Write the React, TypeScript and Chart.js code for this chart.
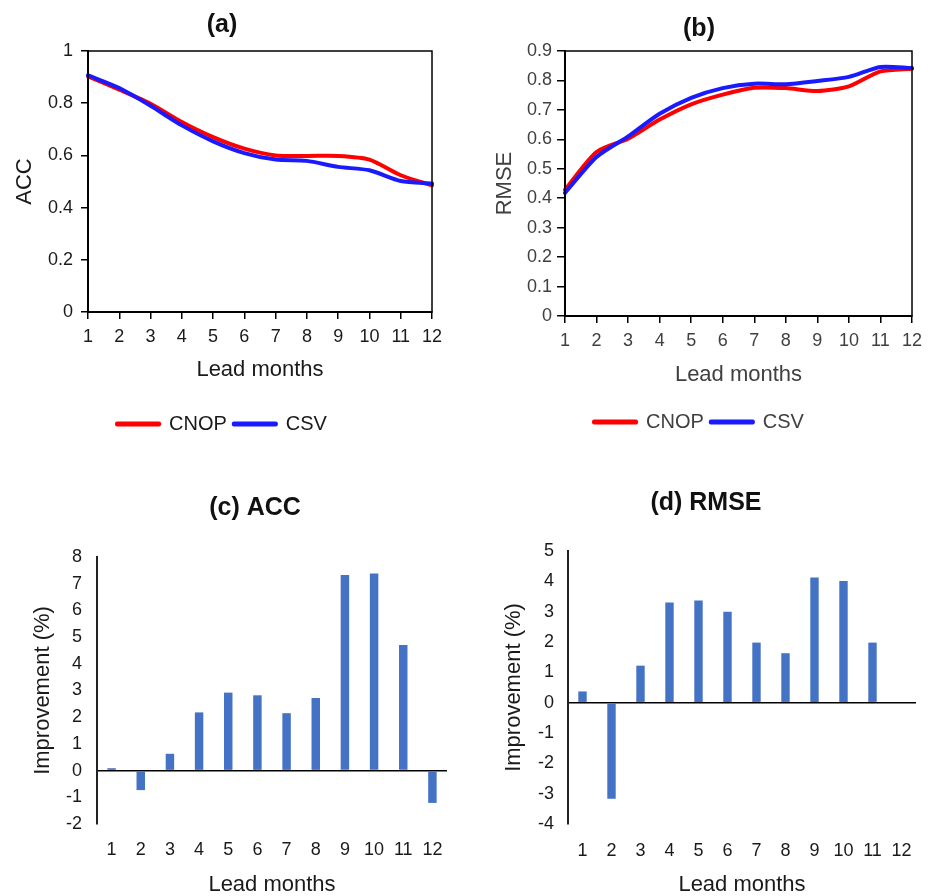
import React, { useEffect, useRef } from 'react';
import { Chart, registerables } from 'chart.js';

Chart.register(...registerables);

const FONT = '"Liberation Sans", Arial, Helvetica, sans-serif';
Chart.defaults.font.family = FONT;

// ---- data ----
const MONTHS = ['1', '2', '3', '4', '5', '6', '7', '8', '9', '10', '11', '12'];
const SERIES_NAMES = ['CNOP', 'CSV'];

const ACC_CNOP = [0.903, 0.852, 0.798, 0.728, 0.67, 0.626, 0.6, 0.598, 0.598, 0.584, 0.524, 0.485];
const ACC_CSV = [0.907, 0.858, 0.79, 0.715, 0.654, 0.609, 0.584, 0.579, 0.556, 0.543, 0.502, 0.492];

const RMSE_CNOP = [0.429, 0.557, 0.602, 0.667, 0.719, 0.752, 0.775, 0.774, 0.764, 0.78, 0.831, 0.84];
const RMSE_CSV = [0.418, 0.54, 0.61, 0.687, 0.741, 0.774, 0.789, 0.787, 0.798, 0.812, 0.846, 0.842];

const ACC_IMPROVEMENT = [0.09, -0.73, 0.63, 2.18, 2.92, 2.82, 2.15, 2.72, 7.33, 7.38, 4.7, -1.21];
const RMSE_IMPROVEMENT = [0.37, -3.17, 1.22, 3.3, 3.37, 3.0, 1.98, 1.63, 4.13, 4.01, 1.98, 0];

const ACC_RANGE = [0, 1, 0.2];
const RMSE_RANGE = [0, 0.9, 0.1];
const ACC_IMP_RANGE = [-2, 8, 1];
const RMSE_IMP_RANGE = [-4, 5, 1];

const RED = '#ff0000';
const BLUE = '#1a1aff';
const BAR_BLUE = '#4472c4';

const framePlugin = {
  id: 'frame',
  afterDraw(chart: any) {
    const { ctx, chartArea: a } = chart;
    ctx.save();
    ctx.strokeStyle = '#000';
    ctx.lineWidth = 1.5;
    ctx.strokeRect(a.left, a.top, a.right - a.left, a.bottom - a.top);
    ctx.restore();
  },
};

const fmt = (v: any) => Number(v).toFixed(1).replace(/\.0$/, '');

function lineConfig(p: any) {
  return {
    type: 'line',
    data: {
      labels: MONTHS,
      datasets: [
        {
          label: SERIES_NAMES[0],
          data: p.cnop,
          borderColor: RED,
          backgroundColor: RED,
          borderWidth: 4,
          pointRadius: 0,
          tension: 0.25,
          borderCapStyle: 'round',
          borderJoinStyle: 'round',
          order: 1,
        },
        {
          label: SERIES_NAMES[1],
          data: p.csv,
          borderColor: BLUE,
          backgroundColor: BLUE,
          borderWidth: 4,
          pointRadius: 0,
          tension: 0.25,
          borderCapStyle: 'round',
          borderJoinStyle: 'round',
          order: 0,
        },
      ],
    },
    plugins: [framePlugin],
    options: {
      animation: false,
      responsive: false,
      devicePixelRatio: 1,
      layout: { padding: { left: p.padLeft, top: 0, right: p.padRight, bottom: 0 } },
      plugins: {
        title: {
          display: true,
          text: p.title,
          color: '#111',
          font: { size: 25, weight: 'bold' },
          padding: { top: p.titleTop, bottom: p.titleBottom },
        },
        legend: {
          position: 'bottom',
          labels: {
            boxWidth: 42,
            boxHeight: 1,
            padding: 7,
            color: p.color,
            font: { size: 20 },
            sort: (a: any, b: any) => a.datasetIndex - b.datasetIndex,
          },
        },
        tooltip: { enabled: false },
      },
      scales: {
        x: {
          offset: false,
          grid: { drawOnChartArea: false, drawTicks: true, tickLength: 7, color: '#000', lineWidth: 1.5 },
          border: { display: true, color: '#000', width: 2 },
          ticks: { color: p.color, font: { size: 18 }, padding: 7, maxRotation: 0, autoSkip: false },
          title: {
            display: true,
            text: 'Lead months',
            color: p.color,
            font: { size: 22 },
            padding: { top: 0, bottom: p.xTitleBottom },
          },
          afterFit: (s: any) => {
            s.height = p.xAxisH;
          },
        },
        y: {
          min: p.range[0],
          max: p.range[1],
          grid: { drawOnChartArea: false, drawTicks: true, tickLength: p.yTickLen, color: '#000', lineWidth: 1.5 },
          border: { display: true, color: '#000', width: 2 },
          ticks: { stepSize: p.range[2], color: p.color, font: { size: 18 }, padding: p.yTickPad, callback: fmt },
          title: {
            display: true,
            text: p.yTitle,
            color: p.color,
            font: { size: 22 },
            padding: { top: p.yTitleTop, bottom: 0 },
          },
          afterFit: (s: any) => {
            s.width = p.yAxisW;
          },
        },
      },
    },
  };
}

function barConfig(p: any) {
  return {
    type: 'bar',
    data: {
      labels: MONTHS,
      datasets: [
        {
          label: 'Improvement',
          data: p.values,
          backgroundColor: BAR_BLUE,
          borderWidth: 0,
          barPercentage: 0.29,
          categoryPercentage: 1,
        },
      ],
    },
    options: {
      animation: false,
      responsive: false,
      devicePixelRatio: 1,
      layout: { padding: { left: p.padLeft, top: 0, right: p.padRight, bottom: 0 } },
      plugins: {
        title: {
          display: true,
          text: p.title,
          color: '#111',
          font: { size: 25, weight: 'bold' },
          padding: { top: p.titleTop, bottom: p.titleBottom },
        },
        legend: { display: false },
        tooltip: { enabled: false },
      },
      scales: {
        x: {
          grid: { display: false, drawTicks: false },
          border: { display: false },
          ticks: { color: '#1a1a1a', font: { size: 18 }, padding: p.xTickPad, maxRotation: 0, autoSkip: false },
          title: {
            display: true,
            text: 'Lead months',
            color: '#1a1a1a',
            font: { size: 22, lineHeight: 1 },
            padding: { top: 0, bottom: 0 },
          },
          afterFit: (s: any) => {
            s.height = 72;
          },
        },
        y: {
          min: p.range[0],
          max: p.range[1],
          grid: {
            drawTicks: false,
            color: (c: any) => (c.tick && c.tick.value === 0 ? '#000' : 'rgba(0,0,0,0)'),
            lineWidth: 1.5,
          },
          border: { display: true, color: '#222', width: 2 },
          ticks: { stepSize: p.range[2], color: '#1a1a1a', font: { size: 18 }, padding: p.yTickPad },
          title: {
            display: true,
            text: 'Improvement (%)',
            color: '#1a1a1a',
            font: { size: 22 },
            padding: { top: p.yTitleTop, bottom: 0 },
          },
          afterFit: (s: any) => {
            s.width = p.yAxisW;
          },
        },
      },
    },
  };
}

function ChartPanel({ left, top, width, height, build }: any) {
  const ref = useRef<HTMLCanvasElement>(null);
  useEffect(() => {
    const chart = new Chart(ref.current as HTMLCanvasElement, build());
    return () => chart.destroy();
  }, []);
  return (
    <canvas
      ref={ref}
      width={width}
      height={height}
      style={{ position: 'absolute', left, top, width, height, display: 'block' }}
    />
  );
}

export default function App() {
  return (
    <div
      style={{
        position: 'fixed',
        left: 0,
        top: 0,
        width: 933,
        height: 896,
        overflow: 'hidden',
        background: '#fff',
      }}
    >
      <ChartPanel
        left={0}
        top={0}
        width={450}
        height={444}
        build={() =>
          lineConfig({
            title: '(a)',
            yTitle: 'ACC',
            cnop: ACC_CNOP,
            csv: ACC_CSV,
            range: ACC_RANGE,
            color: '#1a1a1a',
            padLeft: 12,
            padRight: 18,
            titleTop: 10,
            titleBottom: 11,
            xAxisH: 95,
            xTitleBottom: 24,
            yAxisW: 76,
            yTitleTop: 0,
            yTickLen: 7,
            yTickPad: 8,
          })
        }
      />
      <ChartPanel
        left={465}
        top={0}
        width={468}
        height={442}
        build={() =>
          lineConfig({
            title: '(b)',
            yTitle: 'RMSE',
            cnop: RMSE_CNOP,
            csv: RMSE_CSV,
            range: RMSE_RANGE,
            color: '#404040',
            padLeft: 21,
            padRight: 21,
            titleTop: 14,
            titleBottom: 7,
            xAxisH: 89,
            xTitleBottom: 17,
            yAxisW: 79,
            yTitleTop: 6,
            yTickLen: 8,
            yTickPad: 5,
          })
        }
      />
      <ChartPanel
        left={0}
        top={480}
        width={510}
        height={416}
        build={() =>
          barConfig({
            title: '(c) ACC',
            values: ACC_IMPROVEMENT,
            range: ACC_IMP_RANGE,
            padLeft: 63,
            padRight: 63,
            titleTop: 13,
            titleBottom: 34,
            xTickPad: 15,
            yAxisW: 34,
            yTitleTop: -33,
            yTickPad: 15,
          })
        }
      />
      <ChartPanel
        left={479}
        top={480}
        width={454}
        height={416}
        build={() =>
          barConfig({
            title: '(d) RMSE',
            values: RMSE_IMPROVEMENT,
            range: RMSE_IMP_RANGE,
            padLeft: 17,
            padRight: 17,
            titleTop: 8,
            titleBottom: 33,
            xTickPad: 16,
            yAxisW: 72,
            yTitleTop: 5,
            yTickPad: 14,
          })
        }
      />
    </div>
  );
}
